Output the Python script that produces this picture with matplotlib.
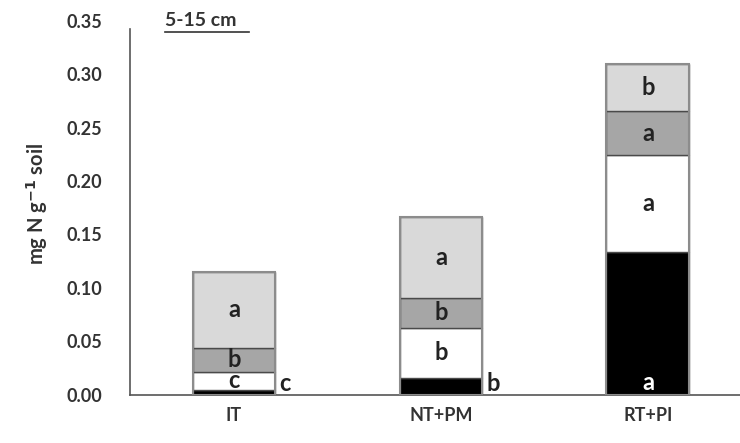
import matplotlib
matplotlib.use("Agg")
import matplotlib.pyplot as plt
import numpy as np

categories = ["IT", "NT+PM", "RT+PI"]
black_vals = [0.0047, 0.0159, 0.1336]
white_vals = [0.0168, 0.0467, 0.0904]
dark_vals = [0.0225, 0.0281, 0.0410]
light_vals = [0.0710, 0.0753, 0.0440]
black_letters = ["c", "b", "a"]
white_letters = ["c", "b", "a"]
dark_letters = ["b", "b", "a"]
light_letters = ["a", "a", "b"]

plt.rcParams['font.family'] = ['Lato', 'DejaVu Sans']

fig = plt.figure(figsize=(7.4, 4.43), dpi=100)
ax = fig.add_axes([0.1757, 0.1084, 0.8243, 0.8453])

x = np.arange(len(categories))
w = 0.40
series = [(black_vals, "#000000"), (white_vals, "#ffffff"),
          (dark_vals, "#a6a6a6"), (light_vals, "#d9d9d9")]
bottom = np.zeros(len(categories))
bottoms = []
for vals, col in series:
    ax.bar(x, vals, w, bottom=bottom, color=col, edgecolor="#4a4a4a", linewidth=1.0, zorder=2)
    bottoms.append(bottom.copy())
    bottom = bottom + np.array(vals)
# outer outline
ax.bar(x, bottom, w, color="none", edgecolor="#8c8c8c", linewidth=1.5, zorder=3)

letters = [black_letters, white_letters, dark_letters, light_letters]
fs = 17
for si, ((vals, col), labs) in enumerate(zip(series, letters)):
    for i in range(len(categories)):
        v = vals[i]
        b = bottoms[si][i]
        if v < 0.02 and si == 0:
            ax.text(x[i] + w / 2 + 0.02, b + 0.0002, labs[i], ha="left", va="bottom",
                    fontsize=fs, fontweight="bold", color="#222222", zorder=4)
        elif si == 0:
            ax.text(x[i], b + 0.0005, labs[i], ha="center", va="bottom",
                    fontsize=fs, fontweight="bold", color="white", zorder=4)
        else:
            ax.text(x[i], b + v / 2, labs[i], ha="center", va="center",
                    fontsize=fs, fontweight="bold", color="#222222", zorder=4)

ax.set_xlim(-0.502, 2.445)
ax.set_ylim(0, 0.35)
ax.set_yticks(np.arange(0, 0.351, 0.05))
ax.set_yticklabels([f"{t:.2f}" for t in np.arange(0, 0.351, 0.05)])
ax.set_xticks(x)
ax.set_xticklabels(categories)
ax.tick_params(axis="both", length=0, labelsize=13, colors="#333333")
ax.tick_params(axis="y", pad=20)
ax.tick_params(axis="x", pad=9)
for lab in ax.get_xticklabels() + ax.get_yticklabels():
    lab.set_fontweight("bold")
for s in ["top", "right"]:
    ax.spines[s].set_visible(False)
ax.spines["left"].set_bounds(0, 0.342)
ax.spines["left"].set_color("#555555")
ax.spines["bottom"].set_color("#555555")
ax.spines["left"].set_linewidth(1.2)
ax.spines["bottom"].set_linewidth(1.2)

ax.set_ylabel("mg N g$^{\\mathbf{-1}}$ soil", fontsize=14.5, fontweight="bold", color="#333333")
ax.yaxis.set_label_coords(-0.132, 0.51)

t = fig.text(165 / 740, 1 - 20 / 443, "5-15 cm", fontsize=14, fontweight="bold",
             color="#333333", ha="left", va="center")
fig.add_artist(plt.Line2D([165 / 740, 249 / 740], [1 - 32 / 443, 1 - 32 / 443],
                          color="#333333", linewidth=1.2))

fig.savefig("out.png", dpi=100)
